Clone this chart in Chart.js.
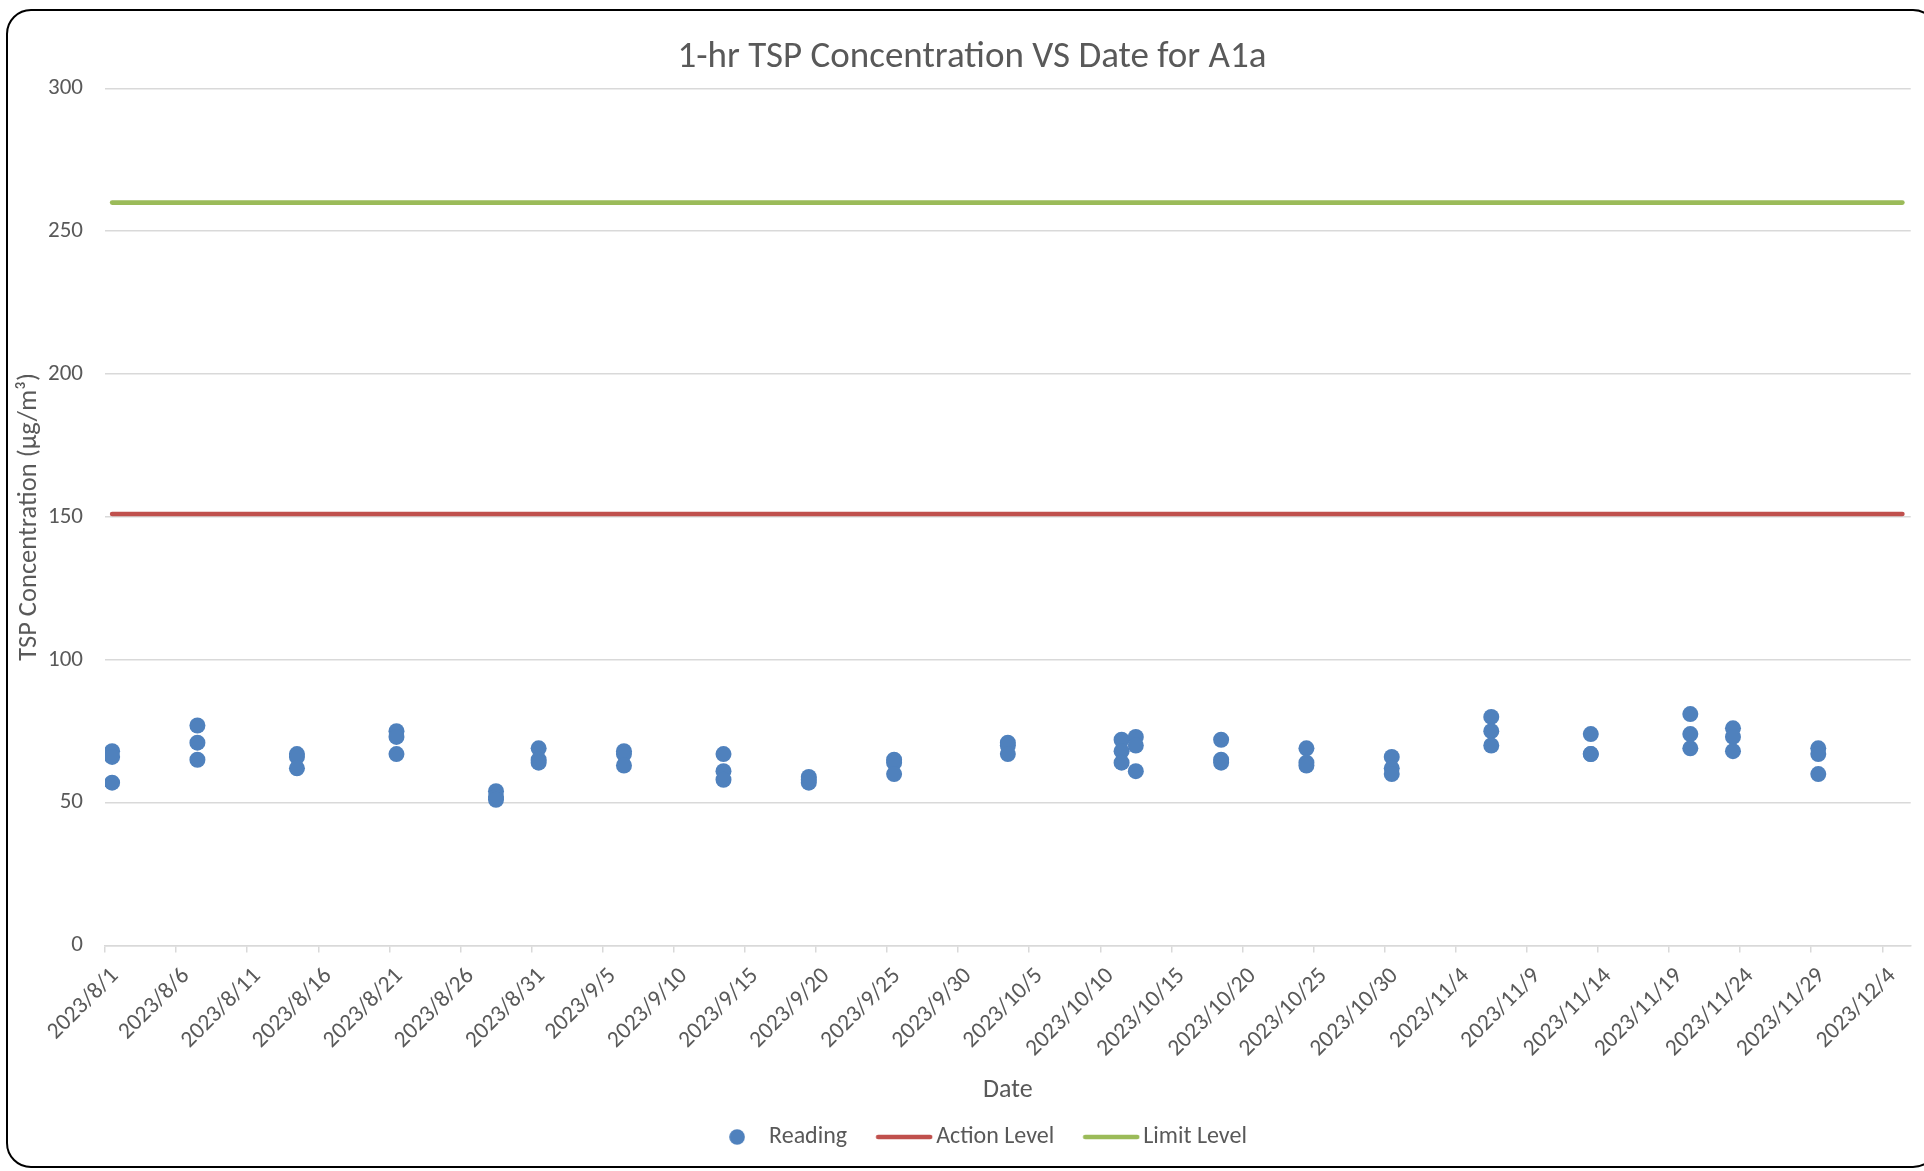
<!DOCTYPE html>
<html><head><meta charset="utf-8">
<script src="https://cdn.jsdelivr.net/npm/chart.js@4.4.1/dist/chart.umd.min.js"></script>
<style>html,body{margin:0;padding:0;background:#fff;overflow:hidden}</style>
</head><body>
<canvas id="c" width="1924" height="1171"></canvas>
<script>
// ---- data ----
const readingDates = [
  '2023/8/1 12:00','2023/8/1 12:00','2023/8/1 12:00',
  '2023/8/7 12:00','2023/8/7 12:00','2023/8/7 12:00',
  '2023/8/14 12:00','2023/8/14 12:00','2023/8/14 12:00',
  '2023/8/21 12:00','2023/8/21 12:00','2023/8/21 12:00',
  '2023/8/28 12:00','2023/8/28 12:00','2023/8/28 12:00',
  '2023/8/31 12:00','2023/8/31 12:00','2023/8/31 12:00',
  '2023/9/6 12:00','2023/9/6 12:00','2023/9/6 12:00',
  '2023/9/13 12:00','2023/9/13 12:00','2023/9/13 12:00',
  '2023/9/19 12:00','2023/9/19 12:00','2023/9/19 12:00',
  '2023/9/25 12:00','2023/9/25 12:00','2023/9/25 12:00',
  '2023/10/3 12:00','2023/10/3 12:00','2023/10/3 12:00',
  '2023/10/11 12:00','2023/10/11 12:00','2023/10/11 12:00',
  '2023/10/12 12:00','2023/10/12 12:00','2023/10/12 12:00',
  '2023/10/18 12:00','2023/10/18 12:00','2023/10/18 12:00',
  '2023/10/24 12:00','2023/10/24 12:00','2023/10/24 12:00',
  '2023/10/30 12:00','2023/10/30 12:00','2023/10/30 12:00',
  '2023/11/6 12:00','2023/11/6 12:00','2023/11/6 12:00',
  '2023/11/13 12:00','2023/11/13 12:00','2023/11/13 12:00',
  '2023/11/20 12:00','2023/11/20 12:00','2023/11/20 12:00',
  '2023/11/23 12:00','2023/11/23 12:00','2023/11/23 12:00',
  '2023/11/29 12:00','2023/11/29 12:00','2023/11/29 12:00'
];
const readingValues = [
  68, 66, 57,
  77, 71, 65,
  67, 66, 62,
  75, 73, 67,
  54, 52, 51,
  69, 65, 64,
  68, 67, 63,
  67, 61, 58,
  59, 58, 57,
  65, 64, 60,
  71, 70, 67,
  72, 68, 64,
  73, 70, 61,
  72, 65, 64,
  69, 64, 63,
  66, 62, 60,
  80, 75, 70,
  74, 67, 67,
  81, 74, 69,
  76, 73, 68,
  69, 67, 60
];
const actionDates = ['2023/8/1 12:00', '2023/12/5 10:00'];
const actionValues = [151, 151];
const limitDates = ['2023/8/1 12:00', '2023/12/5 10:00'];
const limitValues = [260, 260];
const xTickLabels = ['2023/8/1','2023/8/6','2023/8/11','2023/8/16','2023/8/21','2023/8/26','2023/8/31',
  '2023/9/5','2023/9/10','2023/9/15','2023/9/20','2023/9/25','2023/9/30','2023/10/5','2023/10/10',
  '2023/10/15','2023/10/20','2023/10/25','2023/10/30','2023/11/4','2023/11/9','2023/11/14',
  '2023/11/19','2023/11/24','2023/11/29','2023/12/4'];
const xAxisStart = '2023/8/1';
const xAxisEnd = '2023/12/6';
const yTickValues = [0, 50, 100, 150, 200, 250, 300];

// ---- helpers ----
function dayOf(s) {
  const [d, t] = s.split(' ');
  const [y, m, dd] = d.split('/').map(Number);
  let h = 0, mi = 0;
  if (t) { [h, mi] = t.split(':').map(Number); }
  const [y0, m0, d0] = xAxisStart.split('/').map(Number);
  return (Date.UTC(y, m - 1, dd, h, mi) - Date.UTC(y0, m0 - 1, d0)) / 86400000;
}
const toPts = (ds, vs) => ds.map((d, i) => ({x: dayOf(d), y: vs[i]}));

const BLUE = '#4F81BD', RED = '#C0504D', GREEN = '#9BBB59', TXT = '#595959', GRID = '#D9D9D9';
const FONT = 'Carlito, Lato, "Open Sans", sans-serif';

function markerCanvas(kind, color) {
  const c = document.createElement('canvas');
  if (kind === 'dot') { c.width = 16; c.height = 16; }
  else { c.width = 58; c.height = 6; }
  const g = c.getContext('2d');
  if (kind === 'dot') {
    g.fillStyle = color; g.beginPath(); g.arc(8, 8, 7.8, 0, Math.PI * 2); g.fill();
  } else {
    g.strokeStyle = color; g.lineWidth = 4.6; g.lineCap = 'round';
    g.beginPath(); g.moveTo(3, 3); g.lineTo(55, 3); g.stroke();
  }
  return c;
}
const legendMarkers = [markerCanvas('dot', BLUE), markerCanvas('line', RED), markerCanvas('line', GREEN)];

const framePlugin = {
  id: 'frame',
  beforeDraw(chart) {
    const ctx = chart.ctx;
    ctx.save(); ctx.fillStyle = '#fff'; ctx.fillRect(0, 0, chart.width, chart.height); ctx.restore();
  },
  afterLayout(chart) {
    // nudge the legend block to the right to match the original's placement
    if (chart.legend) { chart.legend.left += 10; chart.legend.right += 10; }
  },
  afterDraw(chart) {
    const ctx = chart.ctx;
    ctx.save();
    ctx.strokeStyle = '#000'; ctx.lineWidth = 2;
    ctx.beginPath(); ctx.roundRect(7, 10, 1930, 1157, 24); ctx.stroke();
    ctx.restore();
  }
};

new Chart(document.getElementById('c'), {
  type: 'scatter',
  data: {
    datasets: [
      { label: 'Reading', data: toPts(readingDates, readingValues), backgroundColor: BLUE, borderColor: BLUE,
        borderWidth: 0, pointRadius: 8, pointHoverRadius: 8, showLine: false },
      { label: 'Action Level', data: toPts(actionDates, actionValues), type: 'line', showLine: true,
        borderColor: RED, backgroundColor: RED, borderWidth: 4.6, borderCapStyle: 'round', pointRadius: 0, fill: false },
      { label: 'Limit Level', data: toPts(limitDates, limitValues), type: 'line', showLine: true,
        borderColor: GREEN, backgroundColor: GREEN, borderWidth: 4.6, borderCapStyle: 'round', pointRadius: 0, fill: false }
    ]
  },
  options: {
    responsive: false, animation: false, devicePixelRatio: 1,
    layout: { padding: { left: 33.3, right: 13.3, top: 10, bottom: 12 } },
    plugins: {
      tooltip: { enabled: false },
      title: { display: true, text: '1-hr TSP Concentration VS Date for A1a', color: TXT,
        font: { family: FONT, size: 37, weight: 'normal', lineHeight: 1.2 }, padding: { top: 25.8, bottom: 8.1 } },
      legend: {
        position: 'bottom',
        labels: {
          usePointStyle: true, pointStyleWidth: 40, boxHeight: 24, padding: 37, color: TXT,
          font: { family: FONT, size: 24 },
          generateLabels: (chart) => chart.data.datasets.map((ds, i) => ({
            text: ds.label, pointStyle: legendMarkers[i], fillStyle: ds.borderColor, strokeStyle: ds.borderColor,
            lineWidth: 0, fontColor: TXT, datasetIndex: i, hidden: false
          }))
        }
      }
    },
    scales: {
      x: {
        type: 'linear', min: dayOf(xAxisStart), max: dayOf(xAxisEnd),
        afterBuildTicks: (s) => { s.ticks = xTickLabels.map(l => ({ value: dayOf(l) })); },
        afterFit: (s) => { s.height = 142.5; },
        ticks: {
          autoSkip: false, minRotation: 45, maxRotation: 45, color: TXT, padding: 10, labelOffset: 10,
          font: { family: FONT, size: 23.5 },
          callback: (v) => { const i = xTickLabels.findIndex(l => Math.abs(dayOf(l) - v) < 1e-6); return i >= 0 ? xTickLabels[i] : ''; }
        },
        grid: { drawOnChartArea: false, drawTicks: true, tickLength: 7, color: GRID, lineWidth: 1.5 },
        border: { display: true, color: GRID, width: 1.5 },
        title: { display: true, text: 'Date', color: TXT, font: { family: FONT, size: 26, lineHeight: 1 }, padding: { top: 0, bottom: -15 } }
      },
      y: {
        min: 0, max: 300,
        afterBuildTicks: (s) => { s.ticks = yTickValues.map(v => ({ value: v })); },
        afterFit: (s) => { s.width = 71.7; },
        ticks: { color: TXT, padding: 22, font: { family: FONT, size: 23 } },
        grid: { color: GRID, lineWidth: 1.5, drawTicks: false },
        border: { display: false },
        title: { display: true, text: 'TSP Concentration (µg/m³)', color: TXT,
          font: { family: FONT, size: 26.5, lineHeight: 1.2 }, padding: { top: -19.8, bottom: 0 } }
      }
    }
  },
  plugins: [framePlugin]
});
</script>
</body></html>
